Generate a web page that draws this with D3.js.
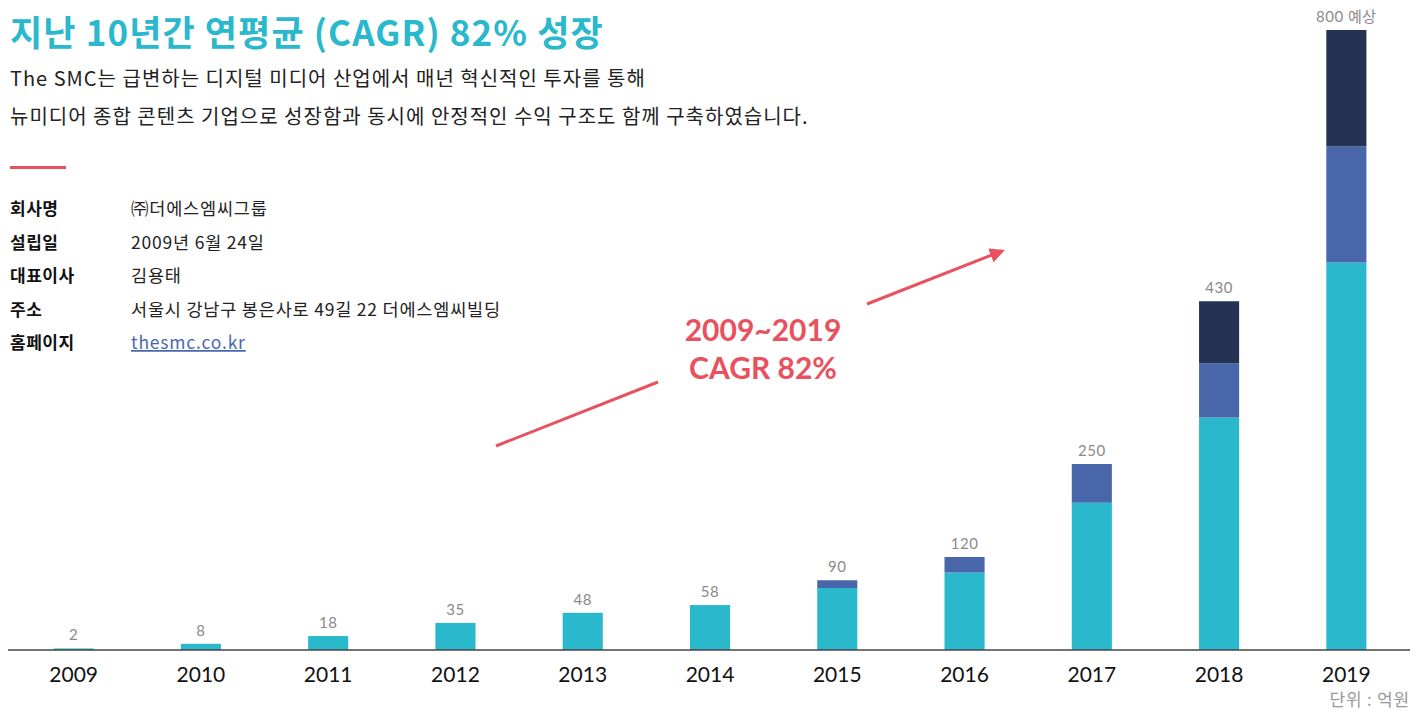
<!DOCTYPE html>
<html>
<head>
<meta charset="utf-8">
<script src="https://cdn.jsdelivr.net/npm/d3@7"></script>
<style>
  body { margin: 0; background: #fff; }
  svg { display: block; font-family: "Noto Sans CJK KR", "Noto Sans", sans-serif; }
</style>
</head>
<body>
<svg id="chart" width="1418" height="712"></svg>
<script>
// data (unit: 억원)
const years = ["2009", "2010", "2011", "2012", "2013", "2014", "2015", "2016", "2017", "2018", "2019"];
const seriesA = [2, 8, 18, 35, 48, 58, 80, 100, 190, 300, 500];   // cyan
const seriesB = [0, 0, 0, 0, 0, 0, 10, 20, 50, 70, 150];          // blue
const seriesC = [0, 0, 0, 0, 0, 0, 0, 0, 0, 80, 150];             // navy
const totalLabels = ["2", "8", "18", "35", "48", "58", "90", "120", "250", "430", "800 예상"];

const infoKeys = ["회사명", "설립일", "대표이사", "주소", "홈페이지"];
const infoValues = ["㈜더에스엠씨그룹", "2009년 6월 24일", "김용태", "서울시 강남구 봉은사로 49길 22 더에스엠씨빌딩", "thesmc.co.kr"];

const colors = ["#2ab8cc", "#4866a9", "#243354"];
const red = "#e8515d";

const svg = d3.select("#chart");

const margin = {left: 10, right: 8, top: 30, bottom: 62},
    width = 1418,
    height = 712,
    baseY = height - margin.bottom;

const table = years.map(function (y, i) {
    return {year: y, a: seriesA[i], b: seriesB[i], c: seriesC[i], label: totalLabels[i]};
});
const stack = d3.stack().keys(["a", "b", "c"])(table);

const xScale = d3.scaleBand()
    .domain(years)
    .range([margin.left, width - margin.right])
    .paddingInner(0.685)
    .paddingOuter(0.3425);

const yScale = d3.scaleLinear()
    .domain([0, 800])
    .range([baseY, margin.top]);

// bars
svg.append("g").selectAll("g")
    .data(stack)
    .enter().append("g")
    .attr("fill", function (d, i) { return colors[i]; })
    .selectAll("rect")
    .data(function (d) { return d; })
    .enter().append("rect")
    .attr("x", function (d) { return xScale(d.data.year); })
    .attr("y", function (d) { return yScale(d[1]); })
    .attr("width", xScale.bandwidth())
    .attr("height", function (d) { return yScale(d[0]) - yScale(d[1]); });

// value labels
svg.append("g").selectAll("text")
    .data(table)
    .enter().append("text")
    .attr("x", function (d) { return xScale(d.year) + xScale.bandwidth() / 2; })
    .attr("y", function (d) { return yScale(d.a + d.b + d.c) - 8; })
    .attr("text-anchor", "middle")
    .attr("fill", "#8a8a8a")
    .style("font-size", "15px")
    .style("letter-spacing", "0.5px")
    .style("font-family", "Lato, 'Noto Sans CJK KR', sans-serif")
    .text(function (d) { return d.label; });

// x axis
const xAxis = svg.append("g")
    .attr("transform", "translate(0," + baseY + ")")
    .call(d3.axisBottom(xScale).tickSize(0).tickPadding(17).tickSizeOuter(0));
xAxis.select(".domain").attr("stroke", "#444").attr("stroke-width", 1.5)
    .attr("d", "M" + (margin.left - 2) + ",0H" + (width - margin.right));
xAxis.selectAll("text")
    .attr("fill", "#111")
    .style("font-size", "21px")
    .style("font-family", "Lato, sans-serif");

svg.append("text")
    .attr("x", width - margin.right)
    .attr("y", 706)
    .attr("text-anchor", "end")
    .attr("fill", "#999")
    .style("font-size", "17px")
    .style("letter-spacing", "0.8px")
    .text("단위 : 억원");

// heading
svg.append("text")
    .attr("x", 10).attr("y", 46)
    .attr("fill", "#2ab8cc")
    .style("font-size", "35px")
    .style("font-weight", "bold")
    .style("letter-spacing", "1.1px")
    .text("지난 10년간 연평균 (CAGR) 82% 성장");

const sub = ["The SMC는 급변하는 디지털 미디어 산업에서 매년 혁신적인 투자를 통해",
    "뉴미디어 종합 콘텐츠 기업으로 성장함과 동시에 안정적인 수익 구조도 함께 구축하였습니다."];
svg.append("g").selectAll("text")
    .data(sub)
    .enter().append("text")
    .attr("x", 10)
    .attr("y", function (d, i) { return 86 + i * 38; })
    .attr("fill", "#222")
    .style("font-size", "20px")
    .style("letter-spacing", "1px")
    .text(function (d) { return d; });

svg.append("rect")
    .attr("x", 10).attr("y", 166)
    .attr("width", 56).attr("height", 3)
    .attr("fill", red);

// company info
const info = svg.append("g");
infoKeys.forEach(function (k, i) {
    const yy = 215 + i * 33.5;
    info.append("text")
        .attr("x", 10).attr("y", yy)
        .attr("fill", "#111")
        .style("font-size", "17px")
        .style("font-weight", "bold")
        .style("letter-spacing", "0.5px")
        .text(k);
    const v = info.append("text")
        .attr("x", 131).attr("y", yy)
        .attr("fill", i === 4 ? "#4a68b0" : "#222")
        .style("font-size", "17.5px")
        .style("letter-spacing", "0.8px")
        .text(infoValues[i]);
    if (i === 4) v.style("text-decoration", "underline");
});

// CAGR annotation
svg.append("defs").append("marker")
    .attr("id", "arrow")
    .attr("viewBox", "0 0 10 10")
    .attr("refX", 8).attr("refY", 5)
    .attr("markerWidth", 5).attr("markerHeight", 5)
    .attr("orient", "auto")
    .append("path")
    .attr("d", "M0,0L10,5L0,10z")
    .attr("fill", red);

svg.append("line")
    .attr("x1", 496).attr("y1", 446).attr("x2", 658).attr("y2", 382)
    .attr("stroke", red).attr("stroke-width", 3);
svg.append("line")
    .attr("x1", 867).attr("y1", 304).attr("x2", 1002).attr("y2", 251)
    .attr("stroke", red).attr("stroke-width", 3)
    .attr("marker-end", "url(#arrow)");

svg.append("g").selectAll("text")
    .data(["2009~2019", "CAGR 82%"])
    .enter().append("text")
    .attr("x", 763)
    .attr("y", function (d, i) { return 341 + i * 38; })
    .attr("text-anchor", "middle")
    .attr("fill", red)
    .style("font-size", "30px")
    .style("font-weight", "bold")
    .style("font-family", "Lato, sans-serif")
    .text(function (d) { return d; });
</script>
</body>
</html>
